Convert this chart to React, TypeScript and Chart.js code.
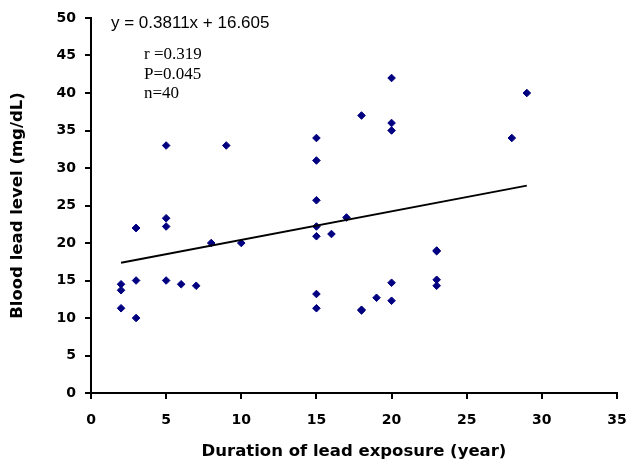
import React, { useEffect, useRef } from "react";
import { Chart, registerables } from "chart.js";

Chart.register(...registerables);

// Duration of lead exposure (years)
const exposureYears = [
  2, 2, 2, 3, 3, 3, 3, 5, 5, 5, 5, 6, 7, 8, 9, 10,
  15, 15, 15, 15, 15, 15, 15, 16, 17, 18, 18, 18, 19,
  20, 20, 20, 20, 20, 23, 23, 23, 23, 28, 29,
];
// Blood lead level (mg/dL)
const bloodLead = [
  14.5, 13.7, 11.3, 22, 22, 15, 10, 33, 23.3, 22.2, 15, 14.5, 14.3, 20, 33, 20,
  34, 31, 25.7, 22.2, 20.9, 13.2, 11.3, 21.2, 23.4, 37, 11, 11.1, 12.7,
  42, 36, 35, 14.7, 12.3, 19, 18.9, 15.1, 14.3, 34, 40,
];

const slope = 0.3811;
const intercept = 16.605;
const equationLabel = "y = 0.3811x + 16.605";
const statLabels = ["r =0.319", "P=0.045", "n=40"];

const xMin = 0, xMax = 35, xStep = 5;
const yMin = 0, yMax = 50, yStep = 5;
const xTitle = "Duration of lead exposure (year)";
const yTitle = "Blood lead level (mg/dL)";

const annotationPlugin = {
  id: "annotations",
  afterDraw(chart: any) {
    const ctx = chart.ctx;
    ctx.save();
    ctx.fillStyle = "#000";
    ctx.textBaseline = "middle";
    ctx.textAlign = "left";
    ctx.font = '17px "Liberation Sans", Arial, sans-serif';
    ctx.fillText(equationLabel, 111, 23);
    ctx.font = '17px "Liberation Serif", "Times New Roman", serif';
    statLabels.forEach((s, i) => ctx.fillText(s, 144, 55 + i * 19.5));
    ctx.restore();
  },
};

export default function App() {
  const canvasRef = useRef<HTMLCanvasElement | null>(null);

  useEffect(() => {
    if (!canvasRef.current) return;
    const points = exposureYears.map((x, i) => ({ x, y: bloodLead[i] }));
    const lo = Math.min(...exposureYears);
    const hi = Math.max(...exposureYears);
    const trend = [
      { x: lo, y: slope * lo + intercept },
      { x: hi, y: slope * hi + intercept },
    ];
    const tickFont = { family: '"DejaVu Sans", sans-serif', size: 14, weight: "bold" as const };
    const titleFont = { family: '"DejaVu Sans", sans-serif', size: 16.5, weight: "bold" as const };

    const chart = new Chart(canvasRef.current, {
      type: "scatter",
      data: {
        datasets: [
          {
            type: "line",
            data: trend,
            borderColor: "#000",
            borderWidth: 1.8,
            pointRadius: 0,
            fill: false,
          } as any,
          {
            type: "scatter",
            data: points,
            backgroundColor: "#000080",
            borderColor: "#000080",
            borderWidth: 1,
            pointStyle: "rectRot",
            pointRadius: 3.8,
          },
        ],
      },
      options: {
        responsive: false,
        animation: false,
        layout: { padding: { top: 18, right: 14, left: 0, bottom: 0 } },
        plugins: { legend: { display: false }, tooltip: { enabled: false } },
        scales: {
          x: {
            type: "linear",
            min: xMin,
            max: xMax,
            ticks: { stepSize: xStep, color: "#000", font: tickFont, padding: 13 },
            grid: {
              drawOnChartArea: false,
              drawTicks: true,
              tickLength: 6,
              color: "#000",
              lineWidth: 2,
            },
            border: { display: true, color: "#000", width: 2 },
            title: {
              display: true,
              text: xTitle,
              color: "#000",
              font: titleFont,
              padding: { top: 0, bottom: 1 },
            },
            afterFit(scale: any) {
              scale.height = 70;
              scale.paddingRight = 0;
              scale.paddingLeft = 0;
            },
          },
          y: {
            type: "linear",
            min: yMin,
            max: yMax,
            ticks: { stepSize: yStep, color: "#000", font: tickFont, padding: 9 },
            grid: {
              drawOnChartArea: false,
              drawTicks: true,
              tickLength: 6,
              color: "#000",
              lineWidth: 2,
            },
            border: { display: true, color: "#000", width: 2 },
            title: {
              display: true,
              text: yTitle,
              color: "#000",
              font: titleFont,
              padding: { top: 8, bottom: 0 },
            },
            afterFit(scale: any) {
              scale.width = 91;
              scale.paddingTop = 0;
              scale.paddingBottom = 0;
            },
          },
        },
      },
      plugins: [annotationPlugin],
    });
    return () => chart.destroy();
  }, []);

  return (
    <div style={{ position: "absolute", left: 0, top: 0, width: 631, height: 463, background: "#fff" }}>
      <canvas ref={canvasRef} width={631} height={463} style={{ display: "block" }} />
    </div>
  );
}
